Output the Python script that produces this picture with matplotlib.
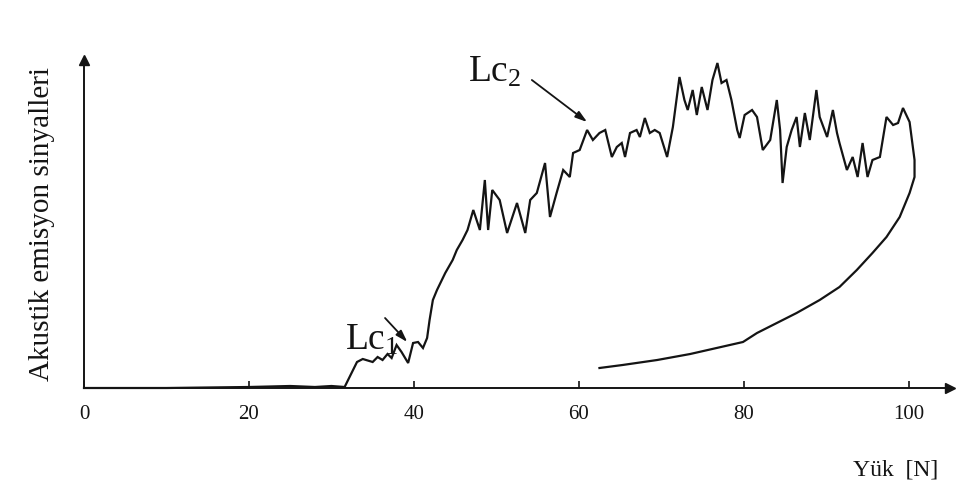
import matplotlib
matplotlib.use("Agg")
import matplotlib.pyplot as plt

plt.rcParams['font.family'] = ['Liberation Serif', 'DejaVu Serif']
plt.rcParams['mathtext.default'] = 'regular'

# ---- data (load in N, acoustic emission signal in arbitrary units) ----
load_trace = [0, 10, 20, 25, 28, 30, 31.6, 33.1, 33.8, 35.0, 35.6, 36.2, 36.8, 37.3, 37.9, 38.5,
              39.3, 39.9, 40.5, 41.1, 41.6, 41.9, 42.3, 42.8, 43.8, 44.7, 45.2, 45.9, 46.5,
              47.2, 48.0, 48.6, 49.0, 49.5, 50.4, 51.3, 52.5, 53.5, 54.1, 54.9, 55.9, 56.5,
              57.3, 58.1, 58.9, 59.3, 60.1, 61.0, 61.7, 62.5, 63.2, 64.0, 64.6, 65.2, 65.6,
              66.2, 67.0, 67.4, 68.0, 68.6, 69.2, 69.8, 70.7, 71.4, 72.2, 72.8, 73.2, 73.8,
              74.3, 74.9, 75.6, 76.2, 76.8, 77.3, 77.9, 78.5, 79.2, 79.5, 80.1, 81.0, 81.6,
              82.3, 83.2, 84.0, 84.4, 84.7, 85.2, 85.8, 86.4, 86.8, 87.4, 88.0, 88.8, 89.2,
              90.1, 90.8, 91.3, 91.6, 92.5, 93.2, 93.8, 94.4, 95.0, 95.6, 96.5, 97.3, 98.1,
              98.7, 99.3, 100.1, 100.7]
signal_trace = [0, 0, 1, 2, 1, 2, 1, 26, 29, 26, 31, 28, 34, 30, 43, 36,
                25, 45, 46, 40, 50, 68, 88, 98, 115, 128, 138, 148, 158,
                178, 158, 208, 158, 198, 188, 155, 185, 155, 188, 195, 225, 171,
                195, 218, 211, 235, 238, 258, 248, 255, 258, 231, 241, 245, 231,
                255, 258, 251, 270, 255, 258, 255, 231, 261, 311, 288, 278, 298,
                273, 301, 278, 308, 325, 305, 308, 288, 258, 250, 273, 278, 271,
                238, 248, 288, 258, 205, 241, 258, 271, 241, 275, 248, 298, 271,
                251, 278, 255, 245, 218, 231, 211, 245, 211, 228, 231, 271, 263,
                265, 280, 266, 228]

load_return = [100.7, 100.7, 100.1, 98.9, 97.3, 95.6, 93.7, 91.6, 89.2, 86.4, 84.0,
               81.6, 79.9, 76.7, 73.5, 69.5, 65.3, 62.5]
signal_return = [228, 211, 195, 171, 151, 135, 118, 101, 88, 75, 65,
                 55, 46, 40, 34, 28, 23, 20]

xticks = [0, 20, 40, 60, 80, 100]
xticklabels = ['0', '20', '40', '60', '80', '100']

W, H = 965, 495
fig = plt.figure(figsize=(W / 100, H / 100), dpi=100)
x0, x1 = 84, 950
y0, y1 = 388, 60
ax = fig.add_axes([x0 / W, (H - y0) / H, (x1 - x0) / W, (y0 - y1) / H])
ax.set_xlim(0, 105)
ax.set_ylim(0, 328)

ink = '#141414'
ax.plot(load_trace + load_return[1:], signal_trace + signal_return[1:], color=ink, lw=1.6,
        solid_joinstyle='miter', clip_on=False)

for s in ['top', 'right']:
    ax.spines[s].set_visible(False)
for s in ['left', 'bottom']:
    ax.spines[s].set_linewidth(1.4)
    ax.spines[s].set_color(ink)

# axis arrowheads
ax.plot([0], [328], marker='^', markersize=7, color=ink, clip_on=False)
ax.plot([105], [0], marker='>', markersize=7, color=ink, clip_on=False)

ax.set_yticks([])
ax.set_xticks(xticks)
ax.set_xticklabels(xticklabels, fontsize=15)
ax.tick_params(axis='x', direction='in', length=5, width=1.2, color=ink, pad=12, labelcolor=ink)

fig.text(42 / W, 1 - 224 / H, 'Akustik emisyon sinyalleri', rotation=90,
         ha='center', va='center', fontsize=21, color=ink)
fig.text(896 / W, 1 - 470 / H, 'Yük  [N]', ha='center', va='center', fontsize=17, color=ink)

arrow = dict(arrowstyle='-|>,head_length=0.7,head_width=0.22', color=ink, lw=1.3,
             shrinkA=0, shrinkB=0)
ax.text(34.9, 48, r'Lc$_{1}$', fontsize=27, ha='center', va='center', color=ink)
ax.annotate('', xy=(39.2, 46), xytext=(36.5, 70), arrowprops=arrow, annotation_clip=False)
ax.text(49.8, 316, r'Lc$_{2}$', fontsize=27, ha='center', va='center', color=ink)
ax.annotate('', xy=(61.0, 266), xytext=(54.3, 308), arrowprops=arrow, annotation_clip=False)

fig.savefig('out.png', dpi=100, facecolor='white')
